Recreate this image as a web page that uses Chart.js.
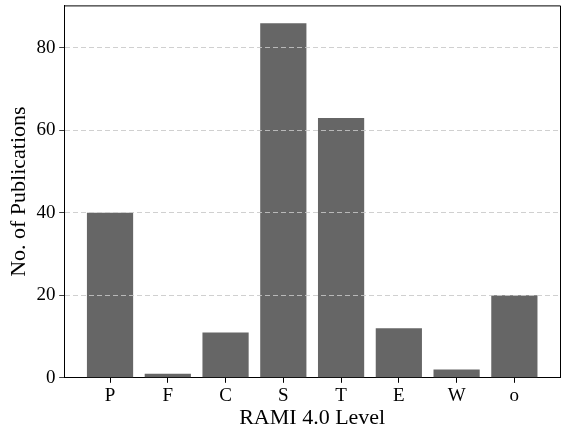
<!DOCTYPE html>
<html>
<head>
<meta charset="utf-8">
<script src="https://cdn.jsdelivr.net/npm/chart.js@4/dist/chart.umd.min.js"></script>
<style>
html,body{margin:0;padding:0;background:#fff;overflow:hidden;}
#wrap{width:562px;height:432px;overflow:hidden;}
#c{display:block;margin-top:-10px;}
</style>
</head>
<body>
<div id="wrap"><canvas id="c" width="562" height="441"></canvas></div>
<script>
const categories = ['P','F','C','S','T','E','W','o'];
const publications = [40, 1, 11, 86, 63, 12, 2, 20];
const yTicks = [0, 20, 40, 60, 80];

const FONT = "'Liberation Serif', 'Times New Roman', serif";

const boxPlugin = {
  id: 'box',
  afterDraw(chart) {
    const a = chart.chartArea, ctx = chart.ctx;
    ctx.save();
    ctx.strokeStyle = '#000';
    ctx.lineWidth = 1;
    ctx.setLineDash([]);
    ctx.beginPath();
    ctx.moveTo(a.left, a.top + 0.5);
    ctx.lineTo(a.right + 0.5, a.top + 0.5);
    ctx.lineTo(a.right + 0.5, a.bottom);
    ctx.stroke();
    ctx.restore();
  }
};

new Chart(document.getElementById('c'), {
  type: 'bar',
  data: {
    datasets: [{
      data: categories.map((c, i) => ({x: i, y: publications[i]})),
      backgroundColor: '#666666',
      borderWidth: 0,
      barPercentage: 0.8,
      categoryPercentage: 1.0
    }]
  },
  options: {
    responsive: false,
    animation: false,
    layout: {padding: {left: 6, right: 2, top: 0, bottom: 0}},
    plugins: {legend: {display: false}, tooltip: {enabled: false}},
    scales: {
      x: {
        type: 'linear',
        offset: false,
        min: -0.79,
        max: 7.79,
        afterBuildTicks(scale) {
          scale.ticks = categories.map((c, i) => ({value: i}));
        },
        ticks: {
          callback: (v) => categories[v],
          color: '#000',
          font: {family: FONT, size: 19},
          padding: 2,
          maxRotation: 0,
          autoSkip: false
        },
        grid: {
          display: true,
          offset: false,
          drawOnChartArea: false,
          drawTicks: true,
          tickLength: 5,
          tickColor: '#000'
        },
        border: {display: true, color: '#000', width: 1},
        title: {
          display: true,
          text: 'RAMI 4.0 Level',
          color: '#000',
          font: {family: FONT, size: 22},
          padding: {top: -5, bottom: 0}
        }
      },
      y: {
        min: 0,
        max: 90.3,
        afterBuildTicks(scale) {
          scale.ticks = yTicks.map(v => ({value: v}));
        },
        ticks: {
          color: '#000',
          font: {family: FONT, size: 19},
          padding: 4
        },
        grid: {
          z: 1,
          color: (ctx) => ctx.tick && ctx.tick.value === 0 ? 'rgba(0,0,0,0)' : 'rgba(200,200,200,0.85)',
          lineWidth: 1,
          drawTicks: true,
          tickLength: 5,
          tickColor: '#000',
          tickBorderDash: [1, 0]
        },
        border: {display: true, color: '#000', width: 1, dash: [5, 3], z: 2},
        title: {
          display: true,
          text: 'No. of Publications',
          color: '#000',
          font: {family: FONT, size: 22},
          padding: {top: 0, bottom: 0}
        }
      }
    }
  },
  plugins: [boxPlugin]
});
</script>
</body>
</html>
